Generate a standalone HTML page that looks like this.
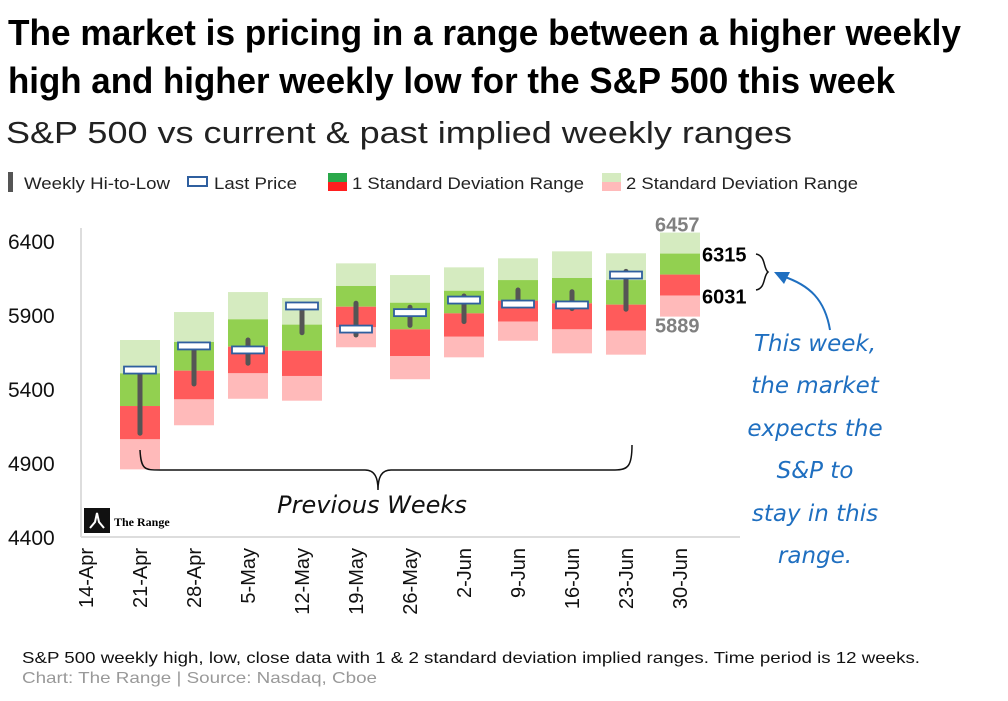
<!DOCTYPE html>
<html><head><meta charset="utf-8"><style>
html,body{margin:0;padding:0;background:#fff;}
svg{display:block;font-family:"Liberation Sans",sans-serif;}
</style></head><body>
<svg id="c" width="1008" height="701" viewBox="0 0 1008 701">
<text x="8" y="45" font-size="36" font-weight="bold" textLength="953" lengthAdjust="spacingAndGlyphs">The market is pricing in a range between a higher weekly</text>
<text x="8" y="93" font-size="36" font-weight="bold" textLength="887" lengthAdjust="spacingAndGlyphs">high and higher weekly low for the S&amp;P 500 this week</text>
<text x="6" y="143" font-size="31" fill="#222" textLength="786" lengthAdjust="spacingAndGlyphs">S&amp;P 500 vs current &amp; past implied weekly ranges</text>
<g font-size="17" fill="#222">
<g><rect x="8" y="172" width="5" height="20" fill="#555"/><text x="24" y="189" textLength="146" lengthAdjust="spacingAndGlyphs">Weekly Hi-to-Low</text></g>
<g><rect x="188" y="177" width="19" height="9" fill="#fff" stroke="#2f5f9f" stroke-width="2"/><text x="214" y="189" textLength="83" lengthAdjust="spacingAndGlyphs">Last Price</text></g>
<g><rect x="328" y="173" width="19" height="9" fill="#2aa84a"/><rect x="328" y="182" width="19" height="9" fill="#ff1f1f"/><text x="352" y="189" textLength="232" lengthAdjust="spacingAndGlyphs">1 Standard Deviation Range</text></g>
<g><rect x="602" y="173" width="19" height="9" fill="#d5ebc0"/><rect x="602" y="182" width="19" height="9" fill="#ffbaba"/><text x="626" y="189" textLength="232" lengthAdjust="spacingAndGlyphs">2 Standard Deviation Range</text></g>
</g>
<g id="plot"></g>
<g>
<path d="M140,450 C141,470 145,470 160,470 L365,470 C375,470 378,478 378,490 C378,478 381,470 391,470 L615,470 C628,470 632,466 632,445" fill="none" stroke="#111" stroke-width="1.5"/>
<text x="372" y="513" font-size="24" font-style="italic" text-anchor="middle" font-family="DejaVu Sans,sans-serif" fill="#111">Previous Weeks</text>
<path d="M756,254 C766,256 763,268 768,272 C763,276 766,288 756,290" fill="none" stroke="#111" stroke-width="1.5"/>
<path d="M830,330 C825,300 810,285 782,276" fill="none" stroke="#1f6fc0" stroke-width="2"/>
<polygon points="774,272 790,272 784,284" fill="#1f6fc0"/>
<g fill="#1f6fc0" font-size="23" font-style="italic" font-family="DejaVu Sans,sans-serif" text-anchor="middle">
<text x="815" y="351">This week,</text><text x="815" y="393">the market</text><text x="815" y="436">expects the</text><text x="815" y="478">S&amp;P to</text><text x="815" y="521">stay in this</text><text x="815" y="563">range.</text>
</g>
<g><rect x="84" y="508" width="26" height="25" fill="#111"/><path d="M90,528 L95,522 L97,513 L99,522 L104,528" stroke="#fff" fill="none" stroke-width="2"/><text x="114" y="526" font-size="12" font-weight="bold" font-family="Liberation Serif,serif">The Range</text></g>
</g>
<text x="22" y="663" font-size="16" fill="#111" textLength="898" lengthAdjust="spacingAndGlyphs">S&amp;P 500 weekly high, low, close data with 1 &amp; 2 standard deviation implied ranges. Time period is 12 weeks.</text>
<text x="22" y="683" font-size="16" fill="#999" textLength="355" lengthAdjust="spacingAndGlyphs">Chart: The Range | Source: Nasdaq, Cboe</text>
</svg>
<script>
const categories=["14-Apr","21-Apr","28-Apr","5-May","12-May","19-May","26-May","2-Jun","9-Jun","16-Jun","23-Jun","30-Jun"];
const sd2Top=[null,5731,5920,6055,6015,6249,6170,6222,6283,6330,6317,6457];
const sd1Top=[null,5506,5718,5871,5835,6096,5983,6064,6136,6150,6136,6315];
const mid=[null,5285,5524,5686,5659,5956,5803,5911,5997,5979,5970,6173];
const sd1Bot=[null,5060,5330,5506,5488,5817,5623,5753,5855,5803,5794,6031];
const sd2Bot=[null,4857,5155,5334,5321,5682,5466,5614,5726,5641,5632,5889];
const weekHigh=[null,5528,5691,5731,5961,5979,5952,6028,6069,6057,6195,null];
const weekLow=[null,5101,5434,5574,5780,5765,5830,5855,5960,5943,5939,null];
const weekClose=[null,5528,5691,5664,5961,5805,5916,6001,5974,5968,6170,null];
const yTicks=[4400,4900,5400,5900,6400];
const NS="http://www.w3.org/2000/svg";
const y=v=>241+(6400-v)*0.148;
const x=i=>86+i*54;
const g=document.getElementById('plot');
function mk(t,a){const e=document.createElementNS(NS,t);for(const k in a)e.setAttribute(k,a[k]);g.appendChild(e);return e;}
let e=mk('line',{x1:81,y1:228,x2:81,y2:537,stroke:'#ddd','stroke-width':2});


e=mk('line',{x1:81,y1:537,x2:740,y2:537,stroke:'#ddd','stroke-width':2});


yTicks.forEach(t=>{const tx=mk('text',{x:8,y:y(t)+8,'font-size':21,fill:'#111'});tx.textContent=t;

});
categories.forEach((c,i)=>{const cx=x(i);
const tx=mk('text',{x:0,y:0,'font-size':20,fill:'#111','text-anchor':'end',transform:`translate(${cx+7},548) rotate(-90)`});tx.textContent=c;


if(sd2Top[i]==null)return;
const segs=[[sd2Top[i],sd1Top[i],'#d5ebc0','sd2-upper'],[sd1Top[i],mid[i],'#92d050','sd1-upper'],[mid[i],sd1Bot[i],'#ff5b5b','sd1-lower'],[sd1Bot[i],sd2Bot[i],'#ffbaba','sd2-lower']];
segs.forEach(s=>{const r=mk('rect',{x:cx-20,y:y(s[0]),width:40,height:y(s[1])-y(s[0]),fill:s[2]});

});
if(weekHigh[i]!=null){
const w=mk('line',{x1:cx,x2:cx,y1:y(weekHigh[i]),y2:y(weekLow[i]),stroke:'#555','stroke-width':5,'stroke-linecap':'round'});


const b=mk('rect',{x:cx-16,y:y(weekClose[i])-3.5,width:32,height:7,fill:'#fff',stroke:'#2f5f9f','stroke-width':1.8});

}
});
const last=categories.length-1;
[[sd2Top[last],655,'#808080',-1],[sd1Top[last],702,'#000',8],[sd1Bot[last],702,'#000',8],[sd2Bot[last],655,'#808080',16]].forEach(a=>{
const t=mk('text',{x:a[1],y:y(a[0])+a[3],'font-size':20,'font-weight':'bold',fill:a[2]});t.textContent=a[0];

});
</script>
</body></html>
